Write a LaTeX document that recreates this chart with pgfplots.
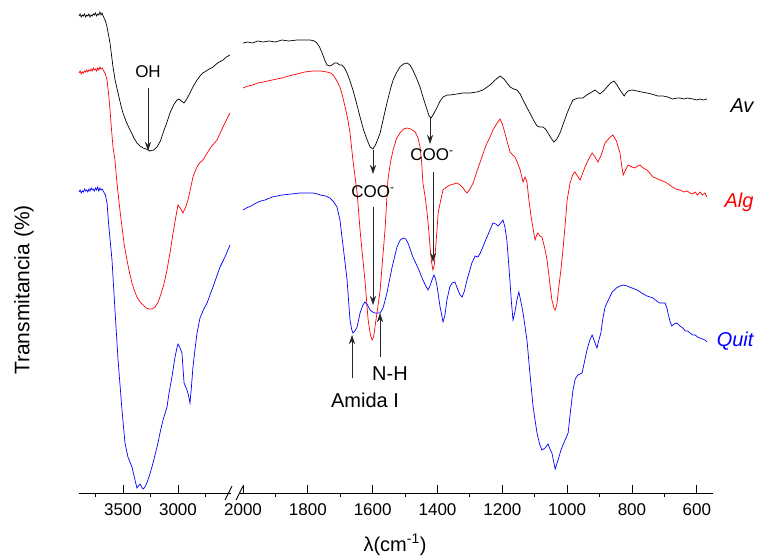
\documentclass[border=0pt]{standalone}
\usepackage{pgfplots}
\pgfplotsset{compat=1.18}
\usepackage{fontspec}
\setmainfont{Liberation Sans}
\usetikzlibrary{arrows.meta}

\pgfplotsset{
  ftir/.style={
    scale only axis, height=493pt, ymin=64, ymax=557,
    x dir=reverse,
    axis x line*=bottom, axis y line=none,
    x axis line style={line width=0.9pt,-},
    tick align=inside,
    major tick length=8pt,
    every tick/.style={black, line width=0.9pt},
    extra x tick style={tick align=outside, major tick length=4pt},
    extra x tick labels={},
    xticklabel style={font=\fontsize{17}{20}\selectfont, yshift=-7pt},
    /pgf/number format/assume math mode=true,
    /pgf/number format/1000 sep={},
    clip=false,
    every axis plot/.append style={line width=0.7pt, mark=none},
  }
}

\begin{document}
\begin{tikzpicture}
\useasboundingbox (0,0) rectangle (762pt,557pt);

% ---------- left segment 3900 - 2520 ----------
\begin{axis}[ftir, at={(79pt,64pt)}, anchor=south west,
  width=151.8pt, xmin=2520, xmax=3900,
  xtick={3000,3500}, extra x ticks={2750,3250,3750}]
\addplot[black] coordinates {
(3900,541) (3890,543) (3880,540) (3870,542) (3860,541) (3850,543) (3840,540) (3830,542) (3820,541) (3810,543) (3800,540) (3790,542) (3780,541) (3770,543) (3760,542) (3750,544) (3740,541) (3730,543) (3720,542) (3710,545) (3700,542) (3690,544) (3680,541) (3660,536) (3645,530) (3618,514) (3591,490) (3570,476) (3545,464) (3520,452) (3500,444) (3470,435) (3436,427) (3400,419) (3373,414) (3345,411) (3318,409) (3290,408) (3255,406) (3220,407) (3191,410) (3160,416) (3136,424) (3100,435) (3073,444) (3040,452) (3009,457) (2991,458) (2970,456) (2945,454) (2920,458) (2891,464) (2860,471) (2827,477) (2800,481) (2773,484) (2730,487) (2682,490) (2640,494) (2591,497) (2560,500) (2527,502)
};
\addplot[red] coordinates {
(3900,484) (3890,486) (3880,483) (3870,485) (3860,484) (3850,486) (3840,485) (3830,487) (3820,485) (3810,487) (3800,486) (3790,488) (3780,486) (3770,489) (3760,487) (3750,488) (3740,486) (3730,489) (3720,487) (3710,490) (3700,488) (3690,489) (3680,487) (3660,483) (3645,477) (3630,462) (3618,447) (3605,428) (3591,410) (3573,397) (3560,380) (3545,364) (3527,346) (3509,330) (3490,313) (3464,297) (3440,284) (3418,274) (3395,266) (3373,260) (3345,255) (3318,252) (3290,249) (3264,248) (3235,248) (3209,250) (3185,254) (3164,260) (3130,272) (3100,287) (3070,306) (3045,324) (3020,340) (3000,352) (2980,349) (2955,344) (2930,350) (2909,357) (2885,369) (2864,380) (2840,387) (2818,392) (2795,395) (2773,397) (2740,403) (2700,410) (2645,417) (2600,428) (2560,437) (2527,444)
};
\addplot[blue] coordinates {
(3900,365) (3890,367) (3880,364) (3870,366) (3860,365) (3850,368) (3840,366) (3830,367) (3820,365) (3810,368) (3800,366) (3790,369) (3780,367) (3770,368) (3760,366) (3750,369) (3740,367) (3730,370) (3720,366) (3710,369) (3700,367) (3690,368) (3680,366) (3660,362) (3645,354) (3630,332) (3600,297) (3573,247) (3545,197) (3509,147) (3482,114) (3455,100) (3418,90) (3391,77) (3373,69) (3360,71) (3345,73) (3330,70) (3318,68) (3300,70) (3273,77) (3250,85) (3227,94) (3200,106) (3182,114) (3160,126) (3136,137) (3100,150) (3080,165) (3055,180) (3040,191) (3027,200) (3010,209) (3000,213) (2985,210) (2964,204) (2955,190) (2945,174) (2930,170) (2918,167) (2905,162) (2891,154) (2878,170) (2864,190) (2845,208) (2827,224) (2800,239) (2770,247) (2736,254) (2682,270) (2618,290) (2573,300) (2527,312)
};
\end{axis}

% ---------- right segment 2010 - 550 ----------
\begin{axis}[ftir, at={(239.8pt,64pt)}, anchor=south west,
  width=473.2pt, xmin=550, xmax=2010,
  xtick={600,800,...,2000}, extra x ticks={700,900,...,1900}]
\addplot[black] coordinates {
(2000,514) (1985,515) (1970,514) (1955,516) (1938,515) (1920,516) (1900,515) (1880,517) (1860,516) (1833,517) (1810,517) (1793,517) (1780,516) (1772,514) (1764,510) (1756,504) (1748,497) (1741,492) (1733,491) (1725,492) (1718,494) (1710,494) (1702,492) (1695,492) (1687,489) (1679,484) (1670,476) (1661,467) (1650,454) (1639,440) (1628,427) (1617,417) (1608,410) (1599,408) (1590,413) (1577,424) (1566,440) (1556,454) (1546,467) (1537,477) (1527,484) (1516,490) (1505,493) (1494,494) (1485,492) (1476,487) (1465,479) (1454,470) (1443,458) (1432,447) (1426,441) (1420,439) (1412,443) (1401,450) (1392,456) (1383,460) (1370,462) (1361,462) (1340,463) (1321,464) (1300,464) (1278,465) (1260,467) (1238,472) (1222,477) (1207,481) (1195,478) (1176,470) (1165,468) (1155,467) (1145,463) (1136,457) (1125,450) (1115,444) (1104,437) (1093,431) (1084,430) (1075,430) (1067,428) (1059,424) (1050,419) (1041,415) (1032,418) (1022,424) (1010,435) (1000,444) (991,451) (982,457) (966,459) (951,459) (940,462) (929,464) (914,467) (899,463) (888,466) (877,470) (866,474) (855,476) (846,472) (837,467) (824,461) (818,464) (812,466) (800,467) (784,466) (770,465) (754,464) (740,463) (720,461) (704,461) (690,460) (675,458) (660,459) (652,459) (640,458) (630,459) (612,458) (600,457) (590,458) (580,457) (569,458)
};
\addplot[red] coordinates {
(2000,469) (1985,471) (1970,472) (1955,474) (1938,475) (1910,477) (1880,479) (1860,481) (1833,483) (1810,485) (1784,486) (1760,486) (1741,485) (1730,484) (1722,482) (1712,477) (1701,470) (1693,461) (1685,450) (1677,438) (1670,424) (1661,397) (1648,364) (1639,327) (1631,300) (1624,277) (1614,237) (1607,222) (1602,217) (1597,220) (1593,230) (1585,248) (1577,267) (1570,295) (1562,327) (1553,377) (1545,395) (1537,407) (1527,418) (1516,424) (1505,428) (1494,429) (1482,428) (1469,425) (1460,419) (1454,410) (1449,395) (1445,374) (1438,360) (1432,344) (1427,327) (1423,310) (1418,294) (1414,287) (1410,292) (1407,304) (1402,325) (1398,344) (1390,357) (1383,367) (1372,370) (1361,372) (1350,373) (1340,374) (1330,372) (1321,369) (1315,366) (1309,364) (1300,368) (1290,374) (1277,387) (1263,400) (1250,412) (1238,420) (1229,427) (1218,433) (1207,438) (1200,433) (1192,424) (1184,414) (1176,405) (1168,402) (1161,400) (1153,394) (1145,387) (1136,375) (1130,380) (1124,375) (1118,357) (1112,342) (1106,330) (1099,317) (1094,322) (1090,324) (1084,321) (1078,320) (1070,310) (1062,297) (1055,278) (1047,257) (1040,248) (1037,247) (1032,252) (1028,264) (1020,285) (1013,307) (1006,333) (1000,357) (991,374) (983,382) (976,385) (968,381) (960,377) (952,384) (945,390) (935,397) (923,404) (914,400) (905,395) (895,402) (883,414) (870,419) (859,422) (848,416) (837,404) (832,392) (827,382) (820,387) (812,392) (800,390) (791,389) (783,391) (775,392) (765,389) (754,387) (745,384) (735,380) (720,378) (705,376) (692,374) (680,371) (665,368) (652,367) (640,365) (630,366) (621,364) (612,363) (605,365) (598,362) (590,365) (583,362) (575,364) (569,360)
};
\addplot[blue] coordinates {
(2000,347) (1990,349) (1975,351) (1960,354) (1945,356) (1932,357) (1910,360) (1880,362) (1850,363) (1824,364) (1800,364) (1784,364) (1770,363) (1762,362) (1745,361) (1732,359) (1720,355) (1710,350) (1701,337) (1691,310) (1679,277) (1670,237) (1665,228) (1661,224) (1655,226) (1648,230) (1639,244) (1630,252) (1624,255) (1616,252) (1608,247) (1600,245) (1593,244) (1585,244) (1577,244) (1568,249) (1556,264) (1540,290) (1525,310) (1515,317) (1506,319) (1498,318) (1491,314) (1476,300) (1460,289) (1445,277) (1436,271) (1429,267) (1422,272) (1417,277) (1411,282) (1406,278) (1401,270) (1392,250) (1383,235) (1377,242) (1371,257) (1362,270) (1355,274) (1346,275) (1337,267) (1330,262) (1324,260) (1317,266) (1309,277) (1294,294) (1284,301) (1275,300) (1268,304) (1260,310) (1250,318) (1238,327) (1229,334) (1220,333) (1213,331) (1205,334) (1198,337) (1192,330) (1186,317) (1176,274) (1172,255) (1167,237) (1161,245) (1155,257) (1149,265) (1143,256) (1136,244) (1124,217) (1115,184) (1105,150) (1093,124) (1085,113) (1078,107) (1068,109) (1059,113) (1053,108) (1047,104) (1042,96) (1037,88) (1033,92) (1028,97) (1020,106) (1013,112) (1005,118) (997,124) (990,145) (982,167) (975,178) (967,182) (954,184) (946,196) (939,207) (930,217) (923,222) (915,215) (908,209) (902,217) (896,224) (890,238) (883,250) (870,259) (861,265) (848,269) (837,271) (826,272) (815,271) (800,269) (784,267) (770,264) (754,261) (735,259) (720,255) (714,254) (705,254) (698,254) (692,249) (689,244) (683,236) (677,231) (670,233) (661,234) (652,231) (643,229) (635,226) (628,226) (621,224) (612,222) (605,222) (598,220) (590,219) (583,218) (575,217) (569,215)
};
\end{axis}

% axis break marks
\draw[line width=0.9pt] (225pt,57pt) -- (232pt,71pt);
\draw[line width=0.9pt] (236pt,57pt) -- (243pt,71pt);

% axis titles
\node[font=\fontsize{20}{24}\selectfont] at (395pt,12pt) {λ(cm\textsuperscript{-1})};
\node[font=\fontsize{21}{25}\selectfont, rotate=90] at (24pt,267pt) {Transmitancia (\%)};

% annotations
\tikzset{ann/.style={line width=0.6pt, black!85, -{Stealth[length=9pt,width=6pt]}}}
\node[font=\fontsize{17}{20}\selectfont] at (148pt,485pt) {OH};
\draw[ann] (148pt,469pt) -- (148pt,406pt);

\node[font=\fontsize{17}{20}\selectfont] at (373pt,365pt) {COO\textsuperscript{-}};
\draw[ann] (373pt,407pt) -- (373pt,383pt);
\draw[ann] (373pt,350pt) -- (373pt,252pt);

\node[font=\fontsize{17}{20}\selectfont] at (432pt,402pt) {COO\textsuperscript{-}};
\draw[ann] (430pt,439pt) -- (430pt,413pt);
\draw[ann] (433pt,385pt) -- (433pt,295pt);

\draw[ann] (352pt,179pt) -- (352pt,222pt);
\node[font=\fontsize{20}{24}\selectfont] at (365pt,157pt) {Amida I};
\draw[ann] (380pt,200pt) -- (380pt,244pt);
\node[font=\fontsize{20}{24}\selectfont] at (390pt,183pt) {N-H};

\node[font=\fontsize{20}{24}\selectfont\itshape, anchor=base east] at (757pt,444pt) {Av};
\node[font=\fontsize{20}{24}\selectfont\itshape, anchor=base east, red] at (757pt,349pt) {Alg};
\node[font=\fontsize{20}{24}\selectfont\itshape, anchor=base east, blue] at (757pt,211pt) {Quit};
\end{tikzpicture}
\end{document}
